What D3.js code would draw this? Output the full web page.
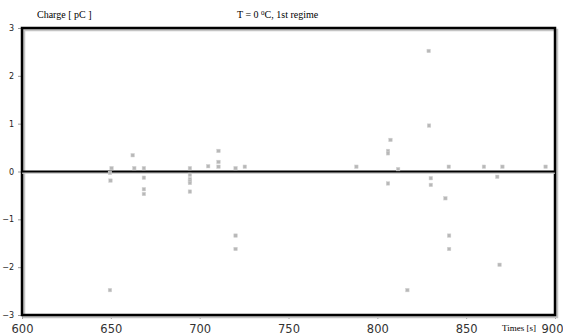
<!DOCTYPE html>
<html><head><meta charset="utf-8">
<script src="https://cdn.jsdelivr.net/npm/d3@7"></script>
<style>body{margin:0;background:#fff}svg{display:block}</style>
</head><body>
<svg id="c" width="563" height="335"></svg>
<script>
const times = [650.4,649.5,649.8,649.5,662.3,663.2,668.6,668.6,668.6,668.6,694.5,694.5,694.5,694.5,694.5,694.5,704.8,710.6,710.6,710.6,720.2,720.2,720.2,725.4,788.2,806,806,806,807.4,811.7,816.9,828.9,829.1,830.1,830.1,838.3,840.2,840.4,840.4,860,867.5,868.8,870.4,894.7];
const charges = [0.07,-0.03,-0.19,-2.48,0.34,0.07,0.07,-0.13,-0.37,-0.47,0.07,-0.07,-0.16,-0.2,-0.24,-0.42,0.11,0.43,0.2,0.1,0.07,-1.34,-1.62,0.1,0.1,0.43,0.38,-0.25,0.66,0.05,-2.48,2.52,0.96,-0.14,-0.28,-0.56,0.1,-1.34,-1.62,0.1,-0.11,-1.95,0.1,0.1];
const xTicks = [600,650,700,750,800,850,900];
const yTicks = [-3,-2,-1,0,1,2,3];

const svg = d3.select("#c");
const x = d3.scaleLinear().domain([600,900]).range([22,555]);
const y = d3.scaleLinear().domain([-3,3]).range([315,28]);

// x axis
const xa = svg.append("g").attr("transform","translate(0,315)")
  .call(d3.axisBottom(x).tickValues(xTicks).tickSize(4).tickFormat(d3.format("d")));
xa.select(".domain").remove();
xa.selectAll("line").attr("stroke","#999");
xa.selectAll("text").attr("font-family","DejaVu Sans").attr("font-size",11.5).attr("fill","#333").attr("dy","0.95em");
xa.selectAll(".tick").filter(d=>d===900).select("text").attr("text-anchor","end").attr("x",8);

// y axis
const ya = svg.append("g").attr("transform","translate(22,0)")
  .call(d3.axisLeft(y).tickValues(yTicks).tickSize(4).tickFormat(d3.format("d")));
ya.select(".domain").remove();
ya.selectAll("line").attr("stroke","#999");
ya.selectAll("text").attr("font-family","DejaVu Sans").attr("font-size",8).attr("fill","#222").attr("x",-8);

// shadow + frame
svg.append("rect").attr("x",x(600)+2).attr("y",y(3)+2).attr("width",x(900)-x(600)).attr("height",y(-3)-y(3))
  .attr("fill","none").attr("stroke","#c4c4c4").attr("stroke-width",2.5);
svg.append("rect").attr("x",x(600)).attr("y",y(3)).attr("width",x(900)-x(600)).attr("height",y(-3)-y(3))
  .attr("fill","none").attr("stroke","#000").attr("stroke-width",2.5);

// zero line
svg.append("line").attr("x1",x(600)).attr("x2",x(900)).attr("y1",y(0)+1.5).attr("y2",y(0)+1.5).attr("stroke","#c4c4c4").attr("stroke-width",1.5);
svg.append("line").attr("x1",x(600)).attr("x2",x(900)).attr("y1",y(0)).attr("y2",y(0)).attr("stroke","#000").attr("stroke-width",1.8);

// points
svg.append("g").selectAll("rect").data(times.map((t,i)=>[t,charges[i]])).join("rect")
  .attr("x",d=>x(d[0])-1.75).attr("y",d=>y(d[1])-1.75).attr("width",3.5).attr("height",3.5)
  .attr("fill","#b8b8b8").attr("stroke","#d4d4d4").attr("stroke-width",0.5);

// labels
svg.append("text").attr("x",37).attr("y",18).attr("font-family","Liberation Serif").attr("font-size",10).text("Charge [ pC ]");
const tt = svg.append("text").attr("x",237).attr("y",18).attr("font-family","Liberation Serif").attr("font-size",10);
tt.append("tspan").text("T = 0 ");
tt.append("tspan").attr("font-size",7).attr("dy",-3).text("0");
tt.append("tspan").attr("dy",3).text("C,  1st regime");
svg.append("text").attr("x",502).attr("y",331).attr("font-family","Liberation Serif").attr("font-size",9).text("Times [s]");
</script>
</body></html>
